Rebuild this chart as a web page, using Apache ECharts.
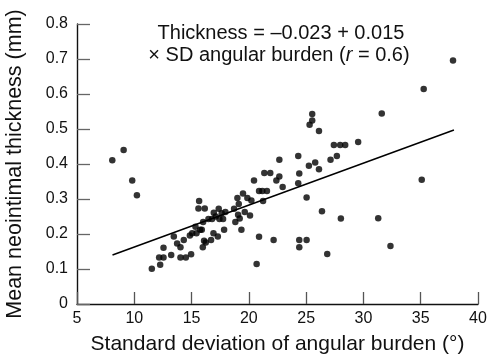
<!DOCTYPE html>
<html><head><meta charset="utf-8">
<script src="https://cdn.jsdelivr.net/npm/echarts@6/dist/echarts.min.js"></script>
<style>html,body{margin:0;padding:0;background:#fff}#c{width:488px;height:356px}</style>
</head><body><div id="c"></div>
<script>
const sdX = [8.08,9.07,9.82,10.23,11.53,12.26,12.17,12.55,12.55,13.22,13.45,13.74,14.03,14.03,14.32,14.50,14.85,14.96,15.05,15.34,15.43,15.66,15.60,15.75,15.89,15.98,16.15,16.01,16.09,16.24,16.47,16.70,16.79,16.94,16.91,17.11,17.29,17.37,17.43,17.63,17.75,17.84,17.95,18.71,18.82,19.00,19.06,19.20,19.12,19.35,19.49,19.64,19.87,20.10,20.22,20.45,20.68,20.89,20.89,21.24,21.18,21.35,21.58,21.87,22.16,22.40,22.66,22.66,22.95,24.31,24.31,24.40,24.40,24.40,25.04,25.04,25.24,25.30,25.53,25.53,25.79,26.12,26.12,26.38,26.84,27.13,27.42,27.68,27.97,28.03,28.41,29.54,31.29,31.60,32.36,35.09,35.26,37.82];
const thickY = [0.411,0.440,0.353,0.311,0.101,0.112,0.133,0.133,0.161,0.140,0.193,0.173,0.162,0.133,0.183,0.133,0.196,0.142,0.202,0.221,0.202,0.294,0.273,0.212,0.212,0.162,0.273,0.234,0.181,0.176,0.243,0.183,0.243,0.261,0.202,0.250,0.193,0.272,0.243,0.259,0.243,0.212,0.263,0.272,0.234,0.303,0.255,0.244,0.286,0.212,0.316,0.263,0.303,0.253,0.296,0.353,0.114,0.192,0.323,0.294,0.323,0.374,0.323,0.374,0.183,0.353,0.364,0.412,0.334,0.423,0.345,0.373,0.183,0.162,0.304,0.183,0.395,0.512,0.524,0.543,0.404,0.385,0.494,0.265,0.143,0.412,0.454,0.423,0.454,0.244,0.454,0.463,0.245,0.544,0.166,0.355,0.614,0.696];
const fitX = [8.1, 37.9];
const fitY = [0.14, 0.497];
const xTitle = 'Standard deviation of angular burden (°)';
const yTitle = 'Mean neointimal thickness (mm)';
const eqLine1 = 'Thickness = \u20130.023 + 0.015';

const chart = echarts.init(document.getElementById('c'), null, {renderer:'canvas'});
const font = 'Liberation Sans, Arial, sans-serif';
chart.setOption({
  animation:false,
  backgroundColor:'#fff',
  grid:{left:77,right:10,top:24,bottom:52,containLabel:false,outerBoundsMode:'none'},
  xAxis:{type:'value',min:5,max:40,interval:5,
    name:xTitle,nameLocation:'middle',nameGap:30,
    nameTextStyle:{color:'#111',fontSize:21,fontFamily:font},
    axisLine:{show:true,onZero:false,lineStyle:{color:'#111',width:1.4}},
    axisTick:{show:true,inside:true,length:12,lineStyle:{color:'#555',width:1.3}},
    axisLabel:{color:'#111',fontSize:16,fontFamily:font,margin:7},
    splitLine:{show:false}},
  yAxis:{type:'value',min:0,max:0.8,interval:0.1,
    name:yTitle,nameLocation:'middle',nameGap:51,
    nameTextStyle:{color:'#111',fontSize:21.5,fontFamily:font},
    axisLine:{show:true,onZero:false,lineStyle:{color:'#111',width:1.4}},
    axisTick:{show:true,inside:true,length:13,lineStyle:{color:'#666',width:1.3}},
    axisLabel:{color:'#111',fontSize:16,fontFamily:font,margin:9,
      formatter:v=> v===0?'0':v.toFixed(1)},
    splitLine:{show:false}},
  series:[
    {type:'scatter',data:sdX.map((x,i)=>[x,thickY[i]]),symbol:'circle',symbolSize:6.5,
     itemStyle:{color:'#000'}},
    {type:'line',data:fitX.map((x,i)=>[x,fitY[i]]),symbol:'none',
     lineStyle:{color:'#000',width:1.5}}
  ],
  graphic:[
    {type:'text',x:281,y:33,style:{text:eqLine1,fill:'#111',font:'20px '+font,align:'center',verticalAlign:'middle'}},
    {type:'text',x:279,y:55,style:{
      text:'{a|\u00d7 SD angular burden (}{i|r}{a| = 0.6)}',
      align:'center',verticalAlign:'middle',
      rich:{a:{fontSize:20,fontFamily:font,fill:'#111',color:'#111'},
            i:{fontSize:20,fontFamily:font,fontStyle:'italic',fill:'#111',color:'#111'}}}}
  ]
});
</script></body></html>
